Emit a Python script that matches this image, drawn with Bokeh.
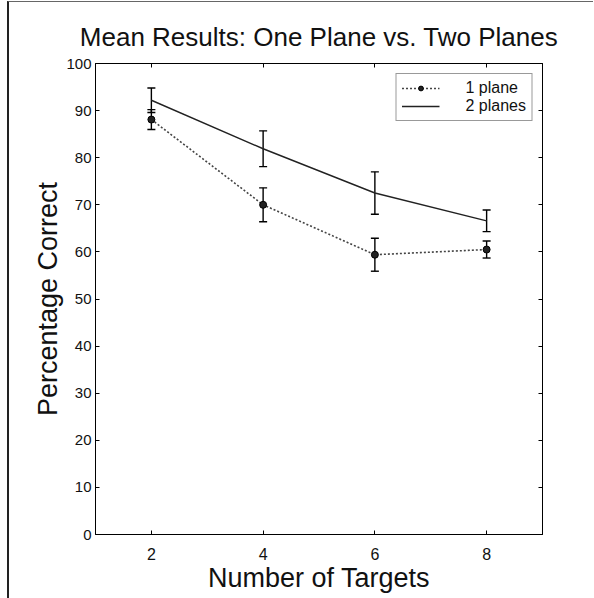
from bokeh.plotting import figure
from bokeh.models import (ColumnDataSource, Whisker, TeeHead, LinearAxis, Legend,
                          LegendItem, FixedTicker, Range1d, CustomJSTickFormatter)
from bokeh.embed import file_html
from bokeh.resources import INLINE

# ---- data ----
targets = [2, 4, 6, 8]
one_plane = [88.1, 70.0, 59.4, 60.5]
one_plane_err = [2.1, 3.6, 3.5, 1.8]
two_planes = [92.2, 81.9, 72.5, 66.6]
two_planes_err = [2.6, 3.8, 4.5, 2.3]
x_ticks = [2, 4, 6, 8]
y_ticks = [0, 10, 20, 30, 40, 50, 60, 70, 80, 90, 100]

FONT = "Liberation Sans"

src1 = ColumnDataSource(dict(
    x=targets, y=one_plane,
    lo=[v - e for v, e in zip(one_plane, one_plane_err)],
    hi=[v + e for v, e in zip(one_plane, one_plane_err)]))
src2 = ColumnDataSource(dict(
    x=targets, y=two_planes,
    lo=[v - e for v, e in zip(two_planes, two_planes_err)],
    hi=[v + e for v, e in zip(two_planes, two_planes_err)]))

p = figure(width=584, height=596, output_backend="svg", toolbar_location=None,
           x_range=Range1d(1, 9), y_range=Range1d(0, 100),
           min_border_left=86, min_border_right=53, min_border_top=61,
           min_border_bottom=65,
           title="Mean Results: One Plane vs. Two Planes",
           styles={"border-left": "2px solid #222222", "border-top": "1px solid #666666",
                   "border-right": "0px none white", "border-bottom": "0px none white",
                   "box-sizing": "content-box",
                   "margin-left": "7px", "margin-top": "1px"})

p.title.text_font = FONT
p.title.text_font_size = "26px"
p.title.text_font_style = "normal"
p.title.text_color = "#111111"
p.title.align = "center"
p.title.standoff = 23

p.xgrid.visible = False
p.ygrid.visible = False
p.outline_line_color = "black"
p.outline_line_width = 1
p.background_fill_color = "white"
p.border_fill_color = "white"

# main axes
for ax in (p.xaxis[0], p.yaxis[0]):
    ax.axis_line_color = "black"
    ax.major_tick_in = 4
    ax.major_tick_out = 0
    ax.minor_tick_line_color = None
    ax.major_label_text_font = FONT
    ax.major_label_text_font_size = "16px"
    ax.major_label_text_color = "#111111"
    ax.axis_label_text_font = FONT
    ax.axis_label_text_font_size = "27px"
    ax.axis_label_text_font_style = "normal"
    ax.axis_label_text_color = "#111111"

p.yaxis[0].major_label_text_font_size = "15px"
p.xaxis[0].ticker = FixedTicker(ticks=x_ticks)
p.yaxis[0].ticker = FixedTicker(ticks=y_ticks)
p.xaxis[0].axis_label = "Number of Targets"
p.yaxis[0].axis_label = "Percentage Correct"
p.xaxis[0].major_label_standoff = 13
p.yaxis[0].major_label_standoff = 4
p.xaxis[0].axis_label_standoff = 0
p.yaxis[0].axis_label_standoff = 0

# mirrored axes (ticks only)
blank = CustomJSTickFormatter(code="return ''")
top = LinearAxis(ticker=FixedTicker(ticks=x_ticks), formatter=blank,
                 major_tick_in=4, major_tick_out=0, minor_tick_line_color=None,
                 axis_line_color="black", major_label_standoff=0)
right = LinearAxis(ticker=FixedTicker(ticks=y_ticks), formatter=blank,
                   major_tick_in=4, major_tick_out=0, minor_tick_line_color=None,
                   axis_line_color="black", major_label_standoff=0)
p.add_layout(top, "above")
p.add_layout(right, "right")

# series
l1 = p.line("x", "y", source=src1, line_color="#444444", line_width=1.6,
            line_dash="2 2")
m1 = p.scatter("x", "y", source=src1, marker="circle", size=7,
               fill_color="#222222", line_color="black", line_width=1)
l2 = p.line("x", "y", source=src2, line_color="#222222", line_width=1.4)

for src in (src2, src1):
    w = Whisker(base="x", lower="lo", upper="hi", source=src,
                line_color="black", line_width=1.4,
                upper_head=TeeHead(size=8, line_color="black", line_width=1.4),
                lower_head=TeeHead(size=8, line_color="black", line_width=1.4))
    p.add_layout(w)

legend = Legend(items=[LegendItem(label="1 plane", renderers=[l1, m1]),
                       LegendItem(label="2 planes", renderers=[l2])],
                location="top_right")
legend.label_text_font = FONT
legend.label_text_font_size = "16px"
legend.label_text_color = "#111111"
legend.label_height = 12
legend.glyph_height = 12
legend.glyph_width = 38
legend.label_standoff = 26
legend.spacing = 0
legend.padding = 5
legend.margin = 10
legend.border_line_color = "#333333"
legend.border_line_width = 1
legend.background_fill_alpha = 1
p.add_layout(legend)

open("out.html", "w").write(file_html(p, INLINE))
